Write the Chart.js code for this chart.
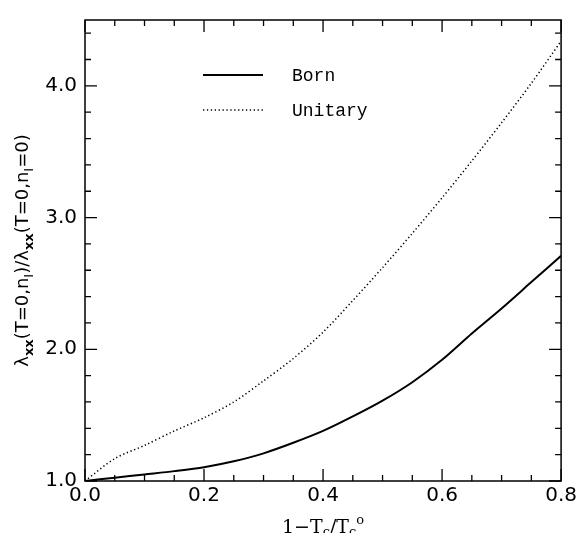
<!DOCTYPE html>
<html>
<head>
<meta charset="utf-8">
<title>lambda_xx ratio</title>
<script src="https://cdn.jsdelivr.net/npm/chart.js@4"></script>
<style>
  html, body { margin: 0; padding: 0; background: #fff; }
  #wrap { width: 580px; height: 533px; }
</style>
</head>
<body>
<div id="wrap"><canvas id="grafica" width="580" height="533"></canvas></div>
<script>
// values
const xVals = [0, 0.05, 0.1, 0.15, 0.2, 0.25, 0.3, 0.35, 0.4, 0.45, 0.5, 0.55, 0.6, 0.65, 0.7, 0.75, 0.8];
const bornVals = [1.00, 1.025, 1.05, 1.075, 1.105, 1.15, 1.21, 1.29, 1.38, 1.49, 1.61, 1.75, 1.92, 2.12, 2.31, 2.51, 2.71];
const unitaryVals = [1.00, 1.17, 1.27, 1.38, 1.48, 1.60, 1.76, 1.93, 2.13, 2.37, 2.62, 2.88, 3.15, 3.43, 3.72, 4.02, 4.34];
const seriesNames = ['Born', 'Unitary'];
const xTicks = [0, 0.2, 0.4, 0.6, 0.8];
const yTicks = [1, 2, 3, 4];

const pts = ys => xVals.map((x, i) => ({ x: x, y: ys[i] }));

// draw text with sub/superscripts: parts = [[text, kind]]  kind: '' | 's' | 'sb' | 'p'
function drawRich(ctx, parts, cx, baseY, size, family, subDrop) {
    const fontFor = k => (k === 'sb' ? 'bold ' : '') + Math.round(k ? size * 0.7 : size) + 'px ' + family;
    let total = 0;
    parts.forEach(p => { ctx.font = fontFor(p[1]); total += ctx.measureText(p[0]).width; });
    let x = cx - total / 2;
    ctx.textAlign = 'left';
    ctx.textBaseline = 'alphabetic';
    parts.forEach(p => {
        ctx.font = fontFor(p[1]);
        let dy = 0;
        if (p[1] === 's' || p[1] === 'sb') dy = size * subDrop;
        if (p[1] === 'p') dy = -size * 0.45;
        ctx.fillText(p[0], x, baseY + dy);
        x += ctx.measureText(p[0]).width;
    });
}

const marcoPlugin = {
    id: 'marco',
    afterDraw(chart) {
        const ctx = chart.ctx;
        const a = chart.chartArea;
        const sx = chart.scales.x, sy = chart.scales.y;
        ctx.save();
        ctx.strokeStyle = '#000';
        ctx.lineWidth = 1.5;
        ctx.strokeRect(a.left, a.top, a.right - a.left, a.bottom - a.top);

        // inward ticks on all four sides
        ctx.lineWidth = 1.3;
        ctx.beginPath();
        for (let v = 0; v <= 0.8001; v += 0.05) {
            const px = sx.getPixelForValue(v);
            const major = xTicks.some(t => Math.abs(t - v) < 1e-6);
            const len = major ? 12 : 6;
            ctx.moveTo(px, a.bottom); ctx.lineTo(px, a.bottom - len);
            ctx.moveTo(px, a.top); ctx.lineTo(px, a.top + len);
        }
        for (let v = 1; v <= 4.5001; v += 0.2) {
            const py = sy.getPixelForValue(v);
            const major = yTicks.some(t => Math.abs(t - v) < 1e-6);
            const len = major ? 12 : 6;
            ctx.moveTo(a.left, py); ctx.lineTo(a.left + len, py);
            ctx.moveTo(a.right, py); ctx.lineTo(a.right - len, py);
        }
        ctx.stroke();

        // legend inside the plot
        chart.data.datasets.forEach((ds, i) => {
            const y = 75 + i * 35;
            ctx.beginPath();
            ctx.strokeStyle = ds.borderColor;
            ctx.lineWidth = ds.borderWidth;
            ctx.setLineDash(ds.borderDash || []);
            ctx.moveTo(203, y); ctx.lineTo(263, y);
            ctx.stroke();
            ctx.setLineDash([]);
            ctx.fillStyle = '#000';
            ctx.font = '18px "Liberation Mono"';
            ctx.textAlign = 'left';
            ctx.textBaseline = 'middle';
            ctx.fillText(ds.label, 292, y + 1);
        });

        // axis titles
        ctx.fillStyle = '#000';
        drawRich(ctx, [['1\u2212T', ''], ['c', 's'], ['/T', ''], ['c', 's'], ['o', 'p']],
            (a.left + a.right) / 2, 533, 19, '"DejaVu Serif"', 0.17);
        ctx.translate(28, (a.top + a.bottom) / 2);
        ctx.rotate(-Math.PI / 2);
        drawRich(ctx, [['\u03bb', ''], ['xx', 'sb'], ['(T=0,n', ''], ['I', 's'], [')/\u03bb', ''],
            ['xx', 'sb'], ['(T=0,n', ''], ['I', 's'], ['=0)', '']], 0, 0, 18, '"DejaVu Sans"', 0.3);
        ctx.restore();
    }
};

new Chart(document.getElementById('grafica'), {
    type: 'line',
    data: {
        datasets: [
            { label: seriesNames[0], data: pts(bornVals), borderColor: '#000', borderWidth: 2,
              pointRadius: 0, tension: 0.3, fill: false },
            { label: seriesNames[1], data: pts(unitaryVals), borderColor: '#000', borderWidth: 1.5,
              borderDash: [1.3, 2.6], pointRadius: 0, tension: 0.3, fill: false }
        ]
    },
    options: {
        responsive: false,
        animation: false,
        devicePixelRatio: 1,
        layout: { padding: { top: 15, right: 17, left: 0, bottom: 0 } },
        plugins: { legend: { display: false }, tooltip: { enabled: false } },
        scales: {
            x: {
                type: 'linear', min: 0, max: 0.8,
                afterFit: s => { s.height = 52; },
                grid: { display: false, drawTicks: false },
                border: { display: false },
                ticks: { stepSize: 0.2, padding: 3, maxRotation: 0, color: '#000',
                         font: { family: 'DejaVu Sans', size: 20 },
                         callback: v => Number(v).toFixed(1) }
            },
            y: {
                type: 'linear', min: 1, max: 4.5,
                afterFit: s => { s.width = 85; },
                grid: { display: false, drawTicks: false },
                border: { display: false },
                ticks: { stepSize: 1, includeBounds: false, padding: 8, color: '#000',
                         font: { family: 'DejaVu Sans', size: 20 },
                         callback: v => Number(v).toFixed(1) }
            }
        }
    },
    plugins: [marcoPlugin]
});
</script>
</body>
</html>
